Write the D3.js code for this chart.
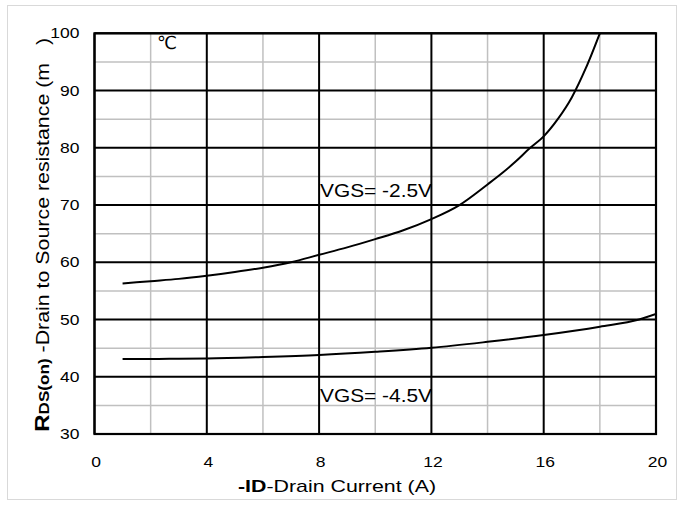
<!DOCTYPE html>
<html>
<head>
<meta charset="utf-8">
<script src="https://cdn.jsdelivr.net/npm/d3@7"></script>
<style>
  html, body { margin: 0; padding: 0; background: #fff; }
  svg { display: block; }
  text { font-family: "Liberation Sans", Arial, sans-serif; fill: #000; }
</style>
</head>
<body>
<svg id="chart" width="680" height="506"></svg>
<script>
// ---- data ----
const xMajorTicks = [0, 4, 8, 12, 16, 20];
const xMinorTicks = [2, 6, 10, 14, 18];
const yMajorTicks = [30, 40, 50, 60, 70, 80, 90, 100];
const yMinorTicks = [35, 45, 55, 65, 75, 85, 95];

const idVgs25 = [1, 2, 3, 4, 5, 6, 7, 8, 9, 10, 11, 12, 13, 14, 14.5, 15, 15.5, 16, 16.5, 17, 17.5, 18];
const rdsVgs25 = [56.3, 56.7, 57.1, 57.65, 58.3, 59.05, 60.0, 61.3, 62.6, 64.05, 65.6, 67.55, 70.0, 73.6, 75.5, 77.6, 79.9, 82.0, 85.0, 88.8, 93.9, 100];

const idVgs45 = [1, 2, 3, 4, 6, 8, 10, 12, 14, 16, 18, 19.4, 20];
const rdsVgs45 = [43.1, 43.1, 43.15, 43.2, 43.45, 43.8, 44.35, 45.05, 46.1, 47.3, 48.75, 50.0, 50.96];

const labelVgs25 = "VGS= -2.5V";
const labelVgs45 = "VGS= -4.5V";
const tempLabel = "\u2103";

// ---- layout ----
const svg = d3.select("#chart");
const x = d3.scaleLinear().domain([0, 20]).range([94.5, 656]);
const y = d3.scaleLinear().domain([30, 100]).range([434, 33.3]);

// outer light frame
svg.append("rect")
  .attr("x", 7.5).attr("y", 5.5).attr("width", 669).attr("height", 494)
  .attr("fill", "none").attr("stroke", "#d9d9d9").attr("stroke-width", 1);

const grid = svg.append("g");
grid.selectAll("line.xmin").data(xMinorTicks).join("line")
  .attr("x1", d => x(d)).attr("x2", d => x(d))
  .attr("y1", y(30)).attr("y2", y(100))
  .attr("stroke", "#c0c0c0").attr("stroke-width", 1.5);
grid.selectAll("line.ymin").data(yMinorTicks).join("line")
  .attr("y1", d => y(d)).attr("y2", d => y(d))
  .attr("x1", x(0)).attr("x2", x(20))
  .attr("stroke", "#c0c0c0").attr("stroke-width", 1.5);
grid.selectAll("line.xmaj").data(xMajorTicks).join("line")
  .attr("x1", d => x(d)).attr("x2", d => x(d))
  .attr("y1", y(30)).attr("y2", y(100))
  .attr("stroke", "#000").attr("stroke-width", 2);
grid.selectAll("line.ymaj").data(yMajorTicks).join("line")
  .attr("y1", d => y(d)).attr("y2", d => y(d))
  .attr("x1", x(0)).attr("x2", x(20))
  .attr("stroke", "#000").attr("stroke-width", 2);
grid.append("rect")
  .attr("x", x(0)).attr("y", y(100))
  .attr("width", x(20) - x(0)).attr("height", y(30) - y(100))
  .attr("fill", "none").attr("stroke", "#000").attr("stroke-width", 2.2);

svg.append("clipPath").attr("id", "plotclip").append("rect")
  .attr("x", x(0)).attr("y", y(100))
  .attr("width", x(20) - x(0)).attr("height", y(30) - y(100));

const line = d3.line().x(d => x(d[0])).y(d => y(d[1])).curve(d3.curveMonotoneX);
const curves = svg.append("g").attr("clip-path", "url(#plotclip)");
curves.append("path")
  .datum(idVgs25.map((v, i) => [v, rdsVgs25[i]]))
  .attr("d", line).attr("fill", "none").attr("stroke", "#000").attr("stroke-width", 2);
curves.append("path")
  .datum(idVgs45.map((v, i) => [v, rdsVgs45[i]]))
  .attr("d", line).attr("fill", "none").attr("stroke", "#000").attr("stroke-width", 2);

// axes (labels only)
const xAxis = svg.append("g").attr("transform", `translate(1,${y(30)})`)
  .call(d3.axisBottom(x).tickValues(xMajorTicks).tickSize(0).tickPadding(23).tickFormat(d3.format("d")));
xAxis.select(".domain").remove();
xAxis.selectAll("text").attr("font-size", 14)
  .attr("font-family", "Liberation Sans, Arial, sans-serif")
  .attr("transform", "scale(1.25,1)");

const yAxis = svg.append("g").attr("transform", `translate(${x(0)},0)`)
  .call(d3.axisLeft(y).tickValues(yMajorTicks).tickSize(0).tickPadding(15).tickFormat(d3.format("d")));
yAxis.select(".domain").remove();
yAxis.selectAll("text").attr("font-size", 14)
  .attr("font-family", "Liberation Sans, Arial, sans-serif")
  .attr("transform", "scale(1.25,1)").attr("x", -15 / 1.25);

// curve labels
svg.append("text").attr("x", 320).attr("y", 197)
  .attr("font-size", 18).attr("textLength", 112).attr("lengthAdjust", "spacingAndGlyphs")
  .text(labelVgs25);
svg.append("text").attr("x", 320).attr("y", 402)
  .attr("font-size", 18).attr("textLength", 112).attr("lengthAdjust", "spacingAndGlyphs")
  .text(labelVgs45);

// temperature mark
svg.append("text").attr("x", 157).attr("y", 49)
  .attr("font-size", 18).attr("textLength", 20).attr("lengthAdjust", "spacingAndGlyphs")
  .style("font-family", "'DejaVu Sans', sans-serif")
  .text(tempLabel);

// x axis title
const xt = svg.append("text").attr("x", 238).attr("y", 492)
  .attr("font-size", 17).attr("textLength", 198).attr("lengthAdjust", "spacingAndGlyphs");
xt.append("tspan").attr("font-weight", "bold").text("-ID");
xt.append("tspan").text("-Drain Current (A)");

// y axis title
const yt = svg.append("text")
  .attr("transform", "translate(49,432) rotate(-90)")
  .attr("x", 0).attr("y", 0)
  .attr("font-size", 17.5).attr("textLength", 394).attr("lengthAdjust", "spacingAndGlyphs");
yt.append("tspan").attr("font-weight", "bold").attr("font-size", 20).text("R");
yt.append("tspan").attr("font-weight", "bold").attr("font-size", 14).text("DS(on)");
yt.append("tspan").text("\u00a0-Drain to Source resistance (m\u00a0\u00a0\u00a0)");
</script>
</body>
</html>
